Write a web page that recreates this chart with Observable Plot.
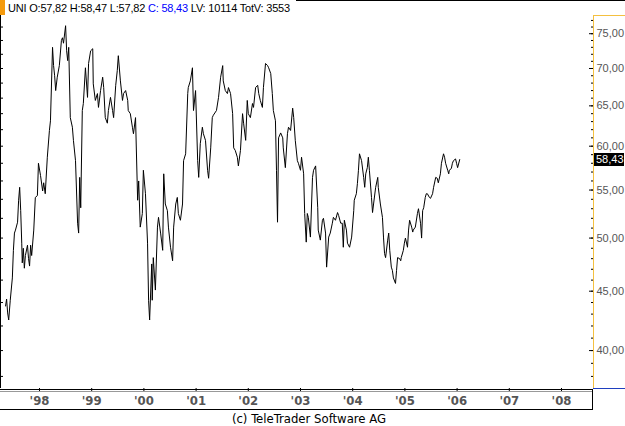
<!DOCTYPE html>
<html><head><meta charset="utf-8">
<script src="https://cdn.jsdelivr.net/npm/d3@7"></script>
<script src="https://cdn.jsdelivr.net/npm/@observablehq/plot@0.6"></script>
<style>
body{margin:0;background:#fff;}
#wrap{position:relative;width:625px;height:426px;overflow:hidden;background:#fff;}
#hdr{position:absolute;left:8px;top:1px;height:14px;font:11px "Liberation Sans",Arial,sans-serif;letter-spacing:-0.2px;white-space:nowrap;color:#000;line-height:14px;z-index:2;}
#hdr .c{color:#0000ff;}
#orange{position:absolute;left:0;top:0;width:5px;height:15px;background:#f59a0c;z-index:2;}
#cap{position:absolute;left:0;width:618px;top:411px;text-align:center;font:13px "Liberation Sans Narrow","DejaVu Sans Condensed",Arial,sans-serif;color:#000;line-height:15px;}
#chart{position:absolute;left:0;top:0;}
</style></head>
<body>
<div id="wrap">
<div id="chart"></div>
<div id="orange"></div>
<div id="hdr">UNI O:57,82 H:58,47 L:57,82 <span class="c">C: 58,43</span> LV: 10114 TotV: 3553</div>
<div id="cap">(c) TeleTrader Software AG</div>
</div>
<script>
// decimal year of each observation
const weeks = [1997.35,1997.37,1997.39,1997.41,1997.44,1997.48,1997.50,1997.52,1997.54,1997.58,1997.60,1997.62,1997.64,1997.66,1997.67,1997.69,1997.71,1997.73,1997.77,1997.79,1997.81,1997.83,1997.85,1997.89,1997.92,1997.96,1997.98,
1998.02,1998.06,1998.08,1998.11,1998.15,1998.19,1998.21,1998.25,1998.27,1998.29,1998.31,1998.34,1998.38,1998.42,1998.44,1998.46,1998.50,1998.52,1998.54,1998.56,1998.59,1998.63,1998.65,1998.69,1998.73,1998.75,1998.77,1998.79,1998.82,1998.84,1998.88,1998.92,1998.94,1998.98,
1999.02,1999.03,1999.07,1999.11,1999.13,1999.17,1999.21,1999.23,1999.26,1999.30,1999.32,1999.36,1999.40,1999.42,1999.46,1999.49,1999.51,1999.55,1999.59,1999.61,1999.65,1999.69,1999.70,1999.74,1999.78,1999.80,1999.84,1999.88,1999.90,1999.93,1999.97,1999.99,
2000.03,2000.07,2000.09,2000.11,2000.15,2000.16,2000.18,2000.22,2000.26,2000.28,2000.32,2000.36,2000.38,2000.41,2000.45,2000.47,2000.51,2000.55,2000.57,2000.61,2000.64,2000.66,2000.70,2000.74,2000.76,2000.80,2000.84,2000.85,2000.89,2000.93,2000.95,2000.99,
2001.03,2001.05,2001.08,2001.12,2001.14,2001.18,2001.22,2001.24,2001.28,2001.31,2001.33,2001.39,2001.43,2001.47,2001.51,2001.52,2001.56,2001.60,2001.62,2001.66,2001.70,2001.72,2001.75,2001.79,2001.81,2001.85,2001.89,2001.91,2001.95,2001.98,
2002.00,2002.04,2002.08,2002.10,2002.14,2002.18,2002.20,2002.23,2002.27,2002.29,2002.33,2002.37,2002.39,2002.43,2002.46,2002.48,2002.52,2002.54,2002.56,2002.58,2002.62,2002.66,2002.67,2002.71,2002.75,2002.77,2002.81,2002.85,2002.87,2002.90,2002.94,2002.96,
2003.00,2003.02,2003.06,2003.08,2003.11,2003.13,2003.15,2003.19,2003.23,2003.25,2003.29,2003.33,2003.34,2003.38,2003.42,2003.44,2003.48,2003.50,2003.54,2003.57,2003.61,2003.63,2003.67,2003.71,2003.73,2003.77,2003.80,2003.82,2003.84,2003.88,2003.90,2003.94,2003.98,
2004.02,2004.03,2004.07,2004.09,2004.11,2004.13,2004.17,2004.21,2004.23,2004.25,2004.28,2004.30,2004.32,2004.36,2004.38,2004.40,2004.44,2004.48,2004.49,2004.53,2004.57,2004.59,2004.61,2004.63,2004.67,2004.69,2004.71,2004.74,2004.76,2004.78,2004.82,2004.84,2004.86,2004.90,2004.92,2004.93,2004.97,2004.99,
2005.01,2005.05,2005.07,2005.09,2005.13,2005.15,2005.16,2005.20,2005.24,2005.26,2005.30,2005.32,2005.34,2005.36,2005.39,2005.41,2005.43,2005.47,2005.49,2005.53,2005.55,2005.59,2005.62,2005.64,2005.68,2005.70,2005.74,2005.76,2005.78,2005.82,2005.84,2005.85,2005.89,2005.91,2005.93,2005.97,2005.99,
2006.01,2006.05];
// closing prices (EUR)
const closes = [43.7,44.3,43.1,42.5,44.2,46.2,48.8,50.5,50.8,51.6,53.9,55.3,52.8,49.5,47.6,49.0,47.1,48.3,49.3,48.0,47.3,49.3,48.3,50.8,54.2,54.4,58.0,
56.6,54.9,55.8,54.6,58.7,61.9,63.1,73.0,70.4,69.0,67.0,68.8,70.4,74.0,74.4,73.6,76.2,72.5,71.1,73.0,63.5,62.3,60.7,58.3,51.5,50.5,56.4,53.1,64.4,65.3,70.1,66.1,70.7,72.5,
72.8,67.9,65.7,66.6,64.8,67.0,68.8,67.4,63.5,62.8,64.4,66.1,64.4,63.5,67.7,69.7,71.8,68.3,65.7,66.6,67.0,65.7,64.4,64.0,62.3,61.5,63.5,53.9,56.0,51.1,52.5,57.2,
54.6,49.5,44.2,42.5,47.5,44.2,48.1,45.1,51.1,52.1,50.5,48.8,56.8,53.5,52.8,51.1,49.1,47.8,51.1,53.5,54.2,52.5,51.8,53.5,58.3,59.1,66.6,67.4,68.3,70.1,64.4,67.0,
58.3,56.4,60.3,62.3,61.5,60.7,57.2,56.3,59.8,63.5,63.8,64.4,66.1,68.8,70.4,68.3,67.0,66.6,67.4,66.6,64.0,59.8,59.5,58.7,57.7,59.5,64.0,62.8,60.7,65.7,
64.0,63.5,65.3,64.8,67.4,67.7,66.6,65.7,64.8,67.4,70.7,70.4,70.1,69.3,66.6,64.4,63.1,57.2,51.6,61.0,61.6,61.0,59.8,57.5,61.5,62.3,61.9,64.7,63.5,60.7,58.3,58.0,
57.2,58.7,56.8,52.5,49.6,52.5,52.1,50.1,56.4,57.2,57.7,53.1,50.8,49.8,51.8,52.0,50.5,47.2,50.1,50.5,51.5,52.1,51.8,52.6,52.3,51.5,51.5,49.1,51.8,50.8,49.5,49.1,50.1,
52.8,53.9,54.6,55.7,57.2,59.1,58.3,56.4,55.3,56.8,57.5,58.7,57.2,54.2,52.6,53.5,55.3,56.4,55.3,53.5,52.1,50.1,48.5,48.1,49.8,50.5,48.8,47.2,46.9,46.2,45.7,46.9,48.1,48.0,47.8,48.1,48.8,49.5,
50.0,49.1,50.8,51.8,51.1,50.6,50.8,51.1,52.5,53.0,51.5,50.0,52.8,53.1,54.2,54.6,54.6,54.2,54.1,54.6,55.3,56.4,56.3,55.8,56.8,58.0,59.1,58.7,58.0,57.2,56.8,57.2,57.4,58.0,58.3,58.5,58.0,
57.5,58.43];
const years = [1998,1999,2000,2001,2002,2003,2004,2005,2006,2007,2008];
const yearLabels = ["'98","'99","'00","'01","'02","'03","'04","'05","'06","'07","'08"];
const majorTicks = [40,45,50,55,60,65,70,75];
const majorLabels = ["40,00","45,00","50,00","55,00","60,00","65,00","70,00","75,00"];
const minorTicks = [38,39,40,41,42,43,44,45,46,47,48,49,50,51,52,53,54,55,56,57,58,59,60,61,62,63,64,65,66,67,68,69,70,71,72,73,74,75,76,77];
const leftTicks = [38,40,42,44,46,48,50,52,54,56,58,60,62,64,66,68,70,72,74,76];
const lastPrice = 58.43;
const lastLabel = "58,43";

const data = weeks.map((t, i) => ({t, c: closes[i]}));
const narrow = '"Liberation Sans Narrow","DejaVu Sans Condensed",Arial,sans-serif';

const plot = Plot.plot({
  width: 625, height: 426,
  marginTop: 15, marginRight: 32, marginBottom: 38, marginLeft: 0,
  style: {background: "transparent", fontFamily: '"Liberation Sans",Arial,sans-serif', overflow: "visible"},
  x: {type: "linear", domain: [1997.253, 2008.613]},
  y: {type: "log", domain: [37.10, 77.76]},
  marks: [
    Plot.axisY({anchor: "left", ticks: leftTicks, tickSize: -3, tickFormat: () => "", label: null, stroke: "#000"}),
    Plot.axisY({anchor: "right", ticks: minorTicks, tickSize: -3, tickFormat: () => "", label: null, stroke: "#000"}),
    Plot.axisY({anchor: "right", ticks: majorTicks, tickSize: -5, tickPadding: 8,
      tickFormat: d => majorLabels[majorTicks.indexOf(d)], label: null, stroke: "#000", fill: "#555", fontSize: 11}),
    Plot.axisX({anchor: "bottom", ticks: years, tickSize: 3, tickPadding: 4,
      tickFormat: d => yearLabels[years.indexOf(d)], label: null, stroke: "#000", fill: "#555",
      fontSize: 13, fontWeight: "bold", fontFamily: narrow}),
    Plot.line(data, {x: "t", y: "c", stroke: "#000", strokeWidth: 1})
  ]
});
document.getElementById("chart").appendChild(plot);

// chart furniture (frame lines, price box)
const svg = d3.select(plot);
const yS = plot.scale("y");
const g = svg.append("g").attr("shape-rendering", "crispEdges");
const ln = (x1, y1, x2, y2, c) => g.append("line").attr("x1", x1).attr("y1", y1).attr("x2", x2).attr("y2", y2).attr("stroke", c).attr("stroke-width", 1);
ln(296, 0.5, 625, 0.5, "#000");
ln(0.5, 15, 0.5, 388, "#000");
ln(593.5, 15, 593.5, 388, "#f4c040");
ln(593, 15.5, 625, 15.5, "#f4c040");
ln(593, 388.5, 625, 388.5, "#1f3fbf");
ln(0, 389.5, 593, 389.5, "#000");
ln(0, 391.5, 593, 391.5, "#999");
ln(0, 409.5, 593, 409.5, "#000");
ln(592.5, 389, 592.5, 410, "#000");
const py = yS.apply(lastPrice);
g.append("rect").attr("x", 594).attr("y", py - 6.5).attr("width", 30).attr("height", 13).attr("fill", "#000");
svg.append("text").attr("x", 596).attr("y", py + 4).attr("fill", "#fff").attr("text-anchor", "start")
  .style("font", '11px "Liberation Sans",Arial,sans-serif').text(lastLabel);
</script>
</body></html>
